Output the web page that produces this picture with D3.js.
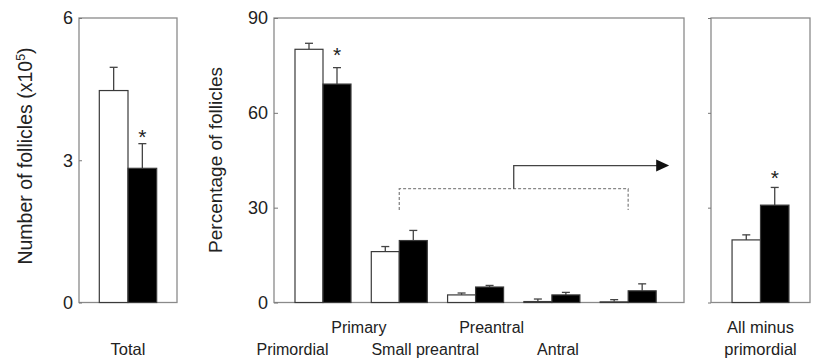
<!DOCTYPE html>
<html>
<head>
<meta charset="utf-8">
<script src="https://cdn.jsdelivr.net/npm/d3@7/dist/d3.min.js"></script>
<style>
    body { margin: 0; background: #fff; }
    text { font-family: Arial, "Liberation Sans", Helvetica, sans-serif; fill: #222; }
</style>
</head>
<body>
<div id="vis"></div>
<script>
/* Follicle counts: total number, percentage per stage, all minus primordial */

// Total number of follicles (x10^5)
var totalCats = ['Total'];
var totalControl = [4.47];
var totalControlErr = [0.49];
var totalTreated = [2.83];
var totalTreatedErr = [0.52];
var totalSig = [true];
var totalTicks = [0, 3, 6];

// Percentage of follicles per stage
var stageCats = ['Primordial', 'Primary', 'Small preantral', 'Preantral', 'Antral'];
var stageControl = [80.1, 16.1, 2.4, 0.3, 0.2];
var stageControlErr = [1.9, 1.6, 0.6, 0.8, 0.7];
var stageTreated = [69.1, 19.6, 4.9, 2.4, 3.7];
var stageTreatedErr = [5.2, 3.2, 0.5, 0.8, 2.2];
var stageSig = [true, false, false, false, false];
var pctTicks = [0, 30, 60, 90];

// All stages except primordial (percentage)
var restCats = ['All minus primordial'];
var restControl = [19.8];
var restControlErr = [1.6];
var restTreated = [30.8];
var restTreatedErr = [5.6];
var restSig = [true];

// Bracket / arrow levels (percentage units)
var bracketLevel = 36;
var bracketDrop = 29.3;
var arrowLevel = 43.3;

// Shared vertical extent of the plot frames
var plotTop = 18, plotBottom = 302.5;

var svg = d3.select('#vis')
    .append('svg')
    .attr('width', 816)
    .attr('height', 362);

// Helper to build rows from the arrays
var makeRows = function(cats, ctrl, ctrlErr, trt, trtErr, sig) {
    return cats.map(function(c, i) {
        return {cat: c, ctrl: ctrl[i], ctrlErr: ctrlErr[i], trt: trt[i], trtErr: trtErr[i], sig: sig[i]};
    });
};

// Draw one framed panel of paired bars
var drawPanel = function(opts) {
    var rows = makeRows(opts.cats, opts.ctrl, opts.ctrlErr, opts.trt, opts.trtErr, opts.sig);

    var xScale = d3.scaleBand()
        .domain(opts.cats)
        .range([opts.left, opts.right])
        .paddingInner(opts.padInner)
        .paddingOuter(opts.padOuter)
        .align(opts.align);

    var subScale = d3.scaleBand()
        .domain(['ctrl', 'trt'])
        .range([0, xScale.bandwidth()]);

    var yScale = d3.scaleLinear()
        .domain(opts.domain)
        .range([plotBottom, plotTop]);

    var g = svg.append('g');

    // Frame
    g.append('rect')
        .attr('x', opts.left)
        .attr('y', plotTop)
        .attr('width', opts.right - opts.left)
        .attr('height', plotBottom - plotTop)
        .attr('fill', 'none')
        .attr('stroke', '#8a8a8a')
        .attr('stroke-width', 1.3);

    // Y axis (short ticks)
    var yAxis = d3.axisLeft(yScale)
        .tickValues(opts.ticks)
        .tickSizeInner(opts.tickSize)
        .tickSizeOuter(0)
        .tickPadding(opts.tickSize < 0 ? 6 : 6 - opts.tickSize)
        .tickFormat(opts.showLabels ? d3.format('d') : '');

    var axisG = g.append('g')
        .attr('transform', 'translate(' + opts.left + ',0)')
        .call(yAxis);
    axisG.select('.domain').remove();
    axisG.selectAll('line').attr('stroke', '#777');
    axisG.selectAll('text')
        .style('font-size', '18px')
        .style('font-family', 'Arial, "Liberation Sans", sans-serif')
        .attr('fill', '#222');

    // Bars
    var series = [
        {key: 'ctrl', fill: '#fff'},
        {key: 'trt', fill: '#000'}
    ];

    var barCenter = function(d, key) {
        return xScale(d.cat) + subScale(key) + subScale.bandwidth() / 2;
    };

    series.forEach(function(s) {
        var grp = g.selectAll('.grp-' + s.key)
            .data(rows)
            .enter().append('g')
            .attr('class', 'grp-' + s.key);

        // error bar stem
        grp.append('line')
            .attr('x1', function(d) { return barCenter(d, s.key); })
            .attr('x2', function(d) { return barCenter(d, s.key); })
            .attr('y1', function(d) { return yScale(d[s.key]); })
            .attr('y2', function(d) { return yScale(d[s.key] + d[s.key + 'Err']); })
            .attr('stroke', '#444')
            .attr('stroke-width', 1.3);

        // error bar cap
        grp.append('line')
            .attr('x1', function(d) { return barCenter(d, s.key) - 4; })
            .attr('x2', function(d) { return barCenter(d, s.key) + 4; })
            .attr('y1', function(d) { return yScale(d[s.key] + d[s.key + 'Err']); })
            .attr('y2', function(d) { return yScale(d[s.key] + d[s.key + 'Err']); })
            .attr('stroke', '#444')
            .attr('stroke-width', 1.3);

        grp.append('rect')
            .attr('x', function(d) { return xScale(d.cat) + subScale(s.key); })
            .attr('y', function(d) { return yScale(d[s.key]); })
            .attr('width', subScale.bandwidth())
            .attr('height', function(d) { return plotBottom - yScale(d[s.key]); })
            .attr('fill', s.fill)
            .attr('stroke', '#3a3a3a')
            .attr('stroke-width', 1.2);
    });

    // Significance stars above treated bars
    g.selectAll('.star')
        .data(rows.filter(function(d) { return d.sig; }))
        .enter().append('text')
        .attr('class', 'star')
        .attr('x', function(d) { return barCenter(d, 'trt'); })
        .attr('y', function(d) { return yScale(d.trt + d.trtErr) - opts.starGap; })
        .attr('text-anchor', 'middle')
        .style('font-size', '21px')
        .attr('fill', '#333')
        .text('*');

    return {x: xScale, sub: subScale, y: yScale, g: g};
};

/* ********************************** Panel 1: total ********************************** */
var p1 = drawPanel({
    cats: totalCats, ctrl: totalControl, ctrlErr: totalControlErr,
    trt: totalTreated, trtErr: totalTreatedErr, sig: totalSig,
    left: 79, right: 177, padInner: 0, padOuter: 0.354, align: 0.5,
    domain: [0, 6], ticks: totalTicks, tickSize: -3, showLabels: true, starGap: 0
});

p1.g.append('text')
    .attr('x', (79 + 177) / 2)
    .attr('y', 355)
    .attr('text-anchor', 'middle')
    .style('font-size', '16.5px')
    .text('Total');

var t1 = p1.g.append('text')
    .attr('transform', 'translate(32,156) rotate(-90)')
    .attr('text-anchor', 'middle')
    .style('font-size', '19.5px');
t1.append('tspan').text('Number of follicles (x10');
t1.append('tspan').attr('dy', -7).style('font-size', '12.5px').text('5');
t1.append('tspan').attr('dy', 7).text(')');

/* ********************************** Panel 2: stages ********************************** */
var p2 = drawPanel({
    cats: stageCats, ctrl: stageControl, ctrlErr: stageControlErr,
    trt: stageTreated, trtErr: stageTreatedErr, sig: stageSig,
    left: 274, right: 684, padInner: 0.266, padOuter: 0.32, align: 0.43,
    domain: [0, 90], ticks: pctTicks, tickSize: -4, showLabels: true, starGap: 6
});

p2.g.append('text')
    .attr('transform', 'translate(222,160) rotate(-90)')
    .attr('text-anchor', 'middle')
    .style('font-size', '19px')
    .text('Percentage of follicles');

// Staggered stage labels
var labelScale = d3.scalePoint()
    .domain(stageCats)
    .range([292.5, 558]);

p2.g.selectAll('.stage-label')
    .data(stageCats)
    .enter().append('text')
    .attr('class', 'stage-label')
    .attr('x', function(d) { return labelScale(d); })
    .attr('y', function(d, i) { return i % 2 === 0 ? 355 : 333; })
    .attr('text-anchor', 'middle')
    .style('font-size', '16px')
    .text(function(d) { return d; });

// Dashed bracket from Primary to Antral, with arrow to the right panel
var bx1 = p2.x('Primary') + p2.x.bandwidth() / 2;
var bx2 = p2.x('Antral') + p2.x.bandwidth() / 2;
var bmid = (bx1 + bx2) / 2;
var tipX = p2.x('Antral') + p2.x.bandwidth() + 13;

p2.g.append('path')
    .attr('d', 'M' + bx1 + ',' + p2.y(bracketDrop) + 'V' + p2.y(bracketLevel) +
        'H' + bx2 + 'V' + p2.y(bracketDrop))
    .attr('fill', 'none')
    .attr('stroke', '#888')
    .attr('stroke-width', 1.3)
    .attr('stroke-dasharray', '3,2');

p2.g.append('path')
    .attr('d', 'M' + bmid + ',' + p2.y(bracketLevel) + 'V' + p2.y(arrowLevel) + 'H' + (tipX - 12))
    .attr('fill', 'none')
    .attr('stroke', '#444')
    .attr('stroke-width', 1.3);

p2.g.append('path')
    .attr('d', 'M' + (tipX - 13) + ',' + (p2.y(arrowLevel) - 6) + 'L' + tipX + ',' + p2.y(arrowLevel) +
        'L' + (tipX - 13) + ',' + (p2.y(arrowLevel) + 6) + 'Z')
    .attr('fill', '#111');

/* ********************************** Panel 3: all minus primordial ********************************** */
var p3 = drawPanel({
    cats: restCats, ctrl: restControl, ctrlErr: restControlErr,
    trt: restTreated, trtErr: restTreatedErr, sig: restSig,
    left: 711, right: 810, padInner: 0, padOuter: 0.37, align: 0.5,
    domain: [0, 90], ticks: pctTicks, tickSize: 3, showLabels: false, starGap: 2.5
});

p3.g.append('text')
    .attr('x', (711 + 810) / 2)
    .attr('text-anchor', 'middle')
    .style('font-size', '16.5px')
    .selectAll('tspan')
    .data(['All minus', 'primordial'])
    .enter().append('tspan')
    .attr('x', (711 + 810) / 2)
    .attr('y', function(d, i) { return i === 0 ? 333 : 355; })
    .text(function(d) { return d; });
</script>
</body>
</html>
